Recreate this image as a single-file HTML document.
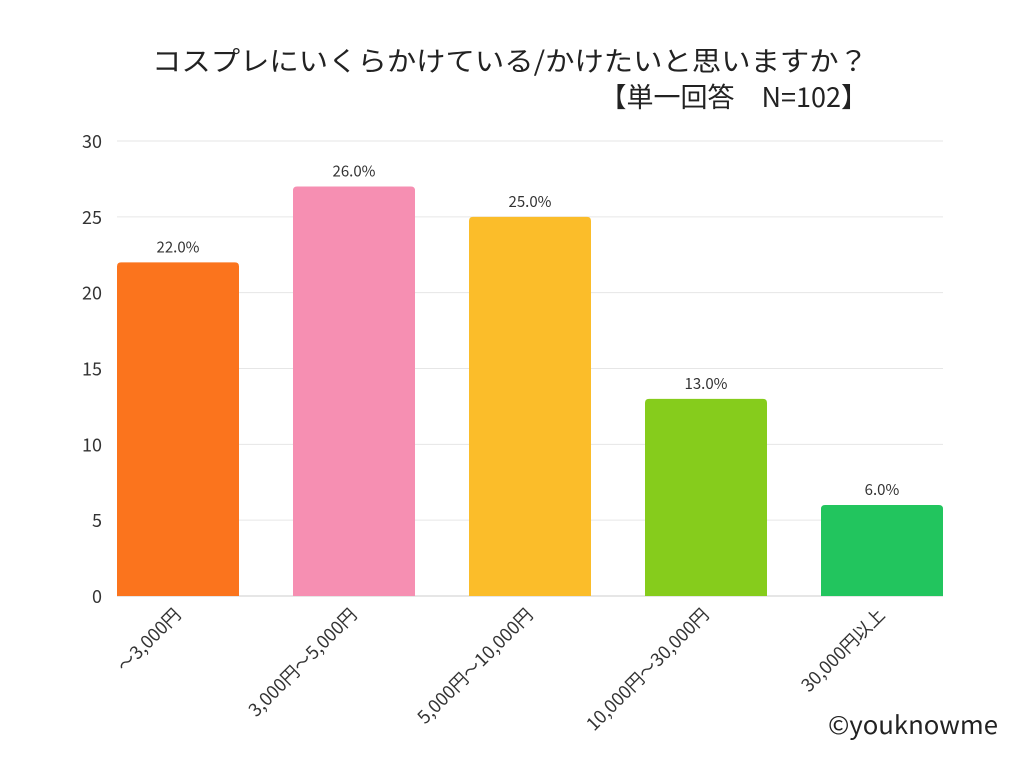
<!DOCTYPE html>
<html><head><meta charset="utf-8"><style>
body{margin:0;background:#fff;font-family:"Noto Sans CJK JP","Liberation Sans",sans-serif;}
svg text{font-family:"Noto Sans CJK JP","Liberation Sans",sans-serif;}
</style></head><body>
<svg id="c" width="1024" height="768">
<text x="152" y="71" font-size="27" textLength="716" lengthAdjust="spacingAndGlyphs" fill="#222">コスプレにいくらかけている/かけたいと思いますか？</text>
<text x="868" y="107" font-size="27" text-anchor="end" fill="#222">【単一回答　N=102】</text>
<g id="grid"></g><g id="bars"></g>
<text x="998" y="734" font-size="25" text-anchor="end" fill="#222" textLength="170" lengthAdjust="spacingAndGlyphs">©youknowme</text>
</svg>
<script>
const categories=["～3,000円","3,000円～5,000円","5,000円～10,000円","10,000円～30,000円","30,000円以上"];
const values=[22,27,25,13,6];
const valueLabels=["22.0%","26.0%","25.0%","13.0%","6.0%"];
const colors=["#fb741d","#f68fb2","#fbbd2a","#86cc1c","#22c55e"];
const yTicks=[0,5,10,15,20,25,30];
const NS="http://www.w3.org/2000/svg";
const x0=117,x1=943,y0=596,y1=141,yMax=30;
const y=v=>y0-(v/yMax)*(y0-y1);
const band=(x1-x0+54)/categories.length, bw=122;
const bx=i=>x0+i*band;
function mk(t,a,p){const e=document.createElementNS(NS,t);for(const k in a)e.setAttribute(k,a[k]);p.appendChild(e);return e;}
const g=document.getElementById('grid'),b=document.getElementById('bars');
yTicks.forEach(t=>{
 const l=mk('line',{x1:x0,x2:x1,y1:y(t),y2:y(t),stroke:t===0?'#ccc':'#e6e6e6','stroke-width':1},g);
 
 
 const tx=mk('text',{x:102,y:y(t)+7,'font-size':18,'text-anchor':'end',fill:'#333'},g);tx.textContent=t;
 
 
});
categories.forEach((c,i)=>{
 const r=mk('path',{d:`M${bx(i)},${y0} V${y(values[i])+4} Q${bx(i)},${y(values[i])} ${bx(i)+4},${y(values[i])} H${bx(i)+bw-4} Q${bx(i)+bw},${y(values[i])} ${bx(i)+bw},${y(values[i])+4} V${y0} Z`,fill:colors[i]},b);
 
 
 const vl=mk('text',{x:bx(i)+bw/2,y:y(values[i])-10,'font-size':15,'text-anchor':'middle',fill:'#333'},b);vl.textContent=valueLabels[i];
 
 
 const cx=bx(i)+bw/2+4, cy=616;
 const xl=mk('text',{x:cx,y:cy,'font-size':18,'text-anchor':'end',fill:'#333',transform:`rotate(-45 ${cx} ${cy})`},b);xl.textContent=c;
 
 
});
</script>
</body></html>
